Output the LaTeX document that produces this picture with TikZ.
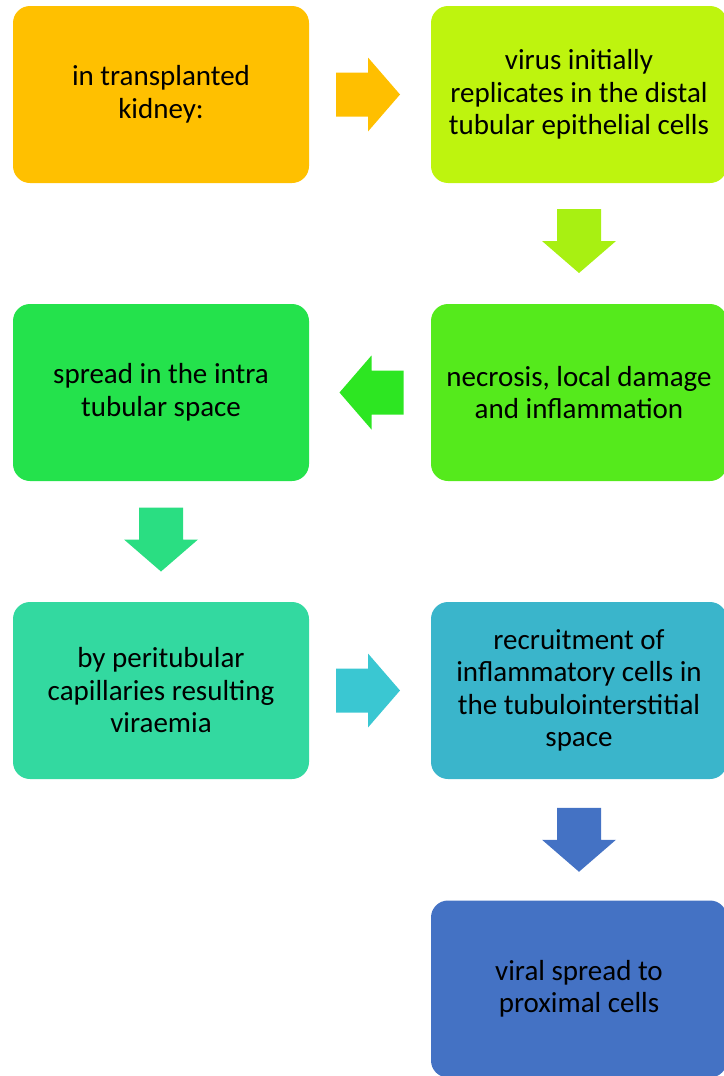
\documentclass[tikz,border=0pt]{standalone}
\usepackage{fontspec}
\setmainfont{Carlito}
\usetikzlibrary{calc}

\definecolor{cKidney}{HTML}{FFC000}
\definecolor{aKidney}{HTML}{FFBF00}
\definecolor{cDistal}{HTML}{BEF40E}
\definecolor{aDistal}{HTML}{A8F012}
\definecolor{cNecro}{HTML}{55EA1C}
\definecolor{aNecro}{HTML}{2DE622}
\definecolor{cSpread}{HTML}{24E24C}
\definecolor{aSpread}{HTML}{2ADE82}
\definecolor{cCapil}{HTML}{33D9A0}
\definecolor{aCapil}{HTML}{3AC7D2}
\definecolor{cRecruit}{HTML}{3AB5CB}
\definecolor{aRecruit}{HTML}{4472C4}
\definecolor{cProx}{HTML}{4472C4}

\begin{document}
\begin{tikzpicture}[x=1pt,y=1pt]
\tikzset{stepbox/.style={rectangle,rounded corners=17pt,minimum width=296pt,minimum height=177pt,
  inner sep=0pt,align=center,font=\fontsize{29}{32.5}\selectfont,text=black}}
\tikzset{blockarrow/.pic={\path[pic actions] (-32,-22) -- (0,-22) -- (0,-37) -- (32,0)
  -- (0,37) -- (0,22) -- (-32,22) -- cycle;}}

\useasboundingbox (0,0) rectangle (723,-1076);

\node[stepbox,fill=cKidney]  (kidney)  at (161,-94.5) {in transplanted\\kidney:};
\node[stepbox,fill=cDistal]  (distal)  at (579,-94.5) {virus initially\\replicates in the distal\\tubular epithelial cells};
\node[stepbox,fill=cNecro]   (necro)   at (579,-392.5) {necrosis, local damage\\and inflammation};
\node[stepbox,fill=cSpread]  (spread)  at (161,-392.5) {spread in the intra\\tubular space};
\node[stepbox,fill=cCapil]   (capil)   at (161,-690.5) {by peritubular\\capillaries resulting\\viraemia};
\node[stepbox,fill=cRecruit] (recruit) at (579,-690.5) {recruitment of\\inflammatory cells in\\the tubulointerstitial\\space};
\node[stepbox,fill=cProx]    (prox)    at (579,-989) {viral spread to\\proximal cells};

% block arrows between the steps
\path ($(kidney.east)!0.5!(distal.west)+(-2,0)$) pic[fill=aKidney] {blockarrow};
\path ($(distal.south)!0.5!(necro.north)+(0,2.5)$) pic[fill=aDistal,rotate=-90] {blockarrow};
\path ($(necro.west)!0.5!(spread.east)+(1.5,0)$) pic[fill=aNecro,rotate=180] {blockarrow};
\path ($(spread.south)!0.5!(capil.north)+(0,2)$) pic[fill=aSpread,rotate=-90] {blockarrow};
\path ($(capil.east)!0.5!(recruit.west)+(-2,0)$) pic[fill=aCapil] {blockarrow};
\path ($(recruit.south)!0.5!(prox.north)+(0,0)$) pic[fill=aRecruit,rotate=-90] {blockarrow};

\end{tikzpicture}
\end{document}
